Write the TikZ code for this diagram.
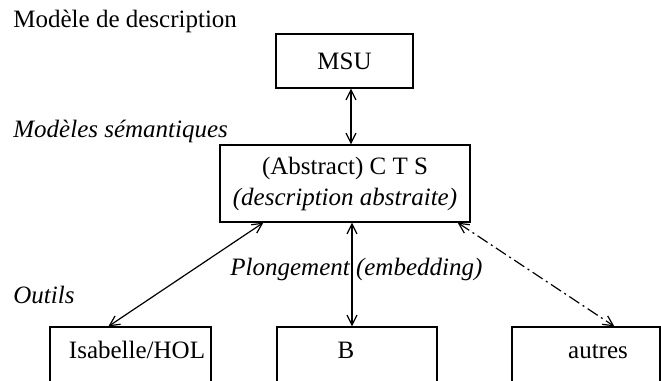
\documentclass[tikz,border=0pt]{standalone}
\usepackage{fontspec}
\setmainfont{Liberation Serif}
\usetikzlibrary{arrows.meta}

\begin{document}
\begin{tikzpicture}[x=0.5pt,y=-0.5pt]
      \tikzstyle{every node}+=[font=\fontsize{12.5}{15.5}\selectfont]
      \tikzstyle{box}=[draw, line width=0.6pt, inner sep=0pt]
      \tikzstyle{link}=[line width=0.6pt, {Straight Barb[length=5pt,width=5pt]}-{Straight Barb[length=5pt,width=5pt]}]
      \useasboundingbox (0,0) rectangle (661,381);
      \clip (0,0) rectangle (661,381);
      % labels on the left
      \node[anchor=base west, inner sep=0pt] (desc) at (13,27) {Modèle de description};
      \node[anchor=base west, inner sep=0pt] (sem) at (13,137) {\itshape Modèles sémantiques};
      \node[anchor=base west, inner sep=0pt] (outils) at (13,303) {\itshape Outils};
      % boxes
      \node[box, minimum width=68.5pt, minimum height=27pt] (msu) at (344.5,61) {MSU};
      \node[box, minimum width=125pt, minimum height=38.5pt, align=center] (cts) at (345,183.5)
            {(Abstract) C T S\\ \itshape (description abstraite)};
      \node[box, minimum width=80.5pt, minimum height=55pt] (isa) at (130.5,382) {};
      \node[box, minimum width=80pt, minimum height=55pt] (b) at (357,382) {};
      \node[box, minimum width=74pt, minimum height=55pt] (autres) at (586,382) {};
      \node[anchor=base, inner sep=0pt] (isatxt) at (137,358) {Isabelle/HOL};
      \node[anchor=base, inner sep=0pt] (btxt) at (346,358) {B};
      \node[anchor=base, inner sep=0pt] (autrestxt) at (598,358) {autres};
      \node[anchor=base west, inner sep=0pt] (plong) at (230,275) {\itshape Plongement (embedding)};
      % arrows
      \coordinate (up) at (351,0);
      \coordinate (down) at (352,0);
      \draw[link] (msu.south -| up) -- (cts.north -| up);
      \draw[link] (cts.south -| down) -- (b.north -| down);
      \draw[link] ([xshift=22pt]cts.south west) -- ([xshift=29.5pt]isa.north west);
      \draw[link, dash pattern=on 6pt off 2pt on 1pt off 2pt] ([xshift=-6.5pt]cts.south east) -- ([xshift=51.5pt]autres.north west);
      \end{tikzpicture}
\end{document}
